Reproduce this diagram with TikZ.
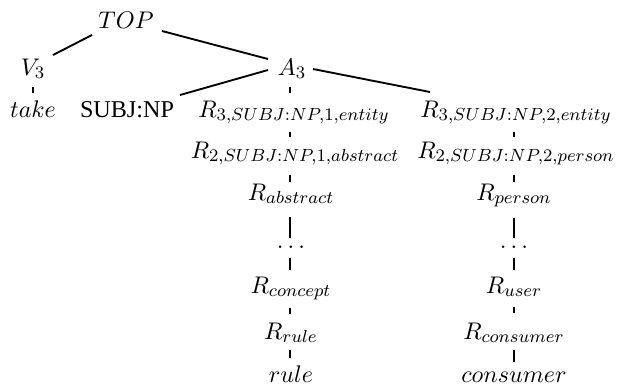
\documentclass[tikz,border=0pt]{standalone}
\usepackage{fontspec}
\newfontfamily\timesfont{Liberation Serif}
\begin{document}
\begin{tikzpicture}[x=0.016cm,y=-0.016cm,
  tn/.style={inner sep=0pt, anchor=base, font=\fontsize{11}{13}\selectfont},
  edge/.style={line width=0.85pt}]
\useasboundingbox (0,0) rectangle (619,384);
\node[tn] (top) at (126,28) {$TOP$};
\node[tn] (v3) at (33,75) {$V_3$};
\node[tn] (a3) at (292,75) {$A_3$};
\node[tn] (take) at (33,117) {$take$};
\node[tn] (subj) at (127,117) {\timesfont SUBJ:NP};
\node[tn] (r31) at (294,117) {$R_{3,SUBJ:NP,1,entity}$};
\node[tn] (r32) at (516,117) {$R_{3,SUBJ:NP,2,entity}$};
\node[tn] (r21) at (295,158) {$R_{2,SUBJ:NP,1,abstract}$};
\node[tn] (r22) at (516,158) {$R_{2,SUBJ:NP,2,person}$};
\node[tn] (rabs) at (291,200) {$R_{abstract}$};
\node[tn] (rper) at (514,200) {$R_{person}$};
\node[tn] (d1) at (291,248) {$\ldots$};
\node[tn] (d2) at (514,248) {$\ldots$};
\node[tn] (rcon) at (291,293) {$R_{concept}$};
\node[tn] (ruser) at (514,293) {$R_{user}$};
\node[tn] (rrule) at (291,339) {$R_{rule}$};
\node[tn] (rcons) at (514,339) {$R_{consumer}$};
\node[tn] (rule) at (291,382) {$rule$};
\node[tn] (cons) at (514,382) {$consumer$};
% diagonal edges
\draw[edge] ([shift={(-34,7)}]top.base) -- ([shift={(20,-20)}]v3.base);
\draw[edge] ([shift={(36,3)}]top.base) -- ([shift={(-24,-16)}]a3.base);
\draw[edge] ([shift={(-24,-5)}]a3.base) -- ([shift={(53,-22)}]subj.base);
\draw[edge] ([shift={(21,-6)}]a3.base) -- ([shift={(-86,-25)}]r32.base);
% vertical edges
\draw[edge] ([shift={(0,12)}]v3.base) -- ([shift={(0,-24)}]take.base);
\draw[edge] ([shift={(-2,12)}]a3.base) -- ([shift={(-4,-24)}]r31.base);
\draw[edge] ([shift={(-4,15)}]r31.base) -- ([shift={(-5,-21)}]r21.base);
\draw[edge] ([shift={(-2,15)}]r32.base) -- ([shift={(-2,-21)}]r22.base);
\draw[edge] ([shift={(-5,17)}]r21.base) -- ([shift={(-1,-18)}]rabs.base);
\draw[edge] ([shift={(-2,17)}]r22.base) -- ([shift={(0,-18)}]rper.base);
\draw[edge] ([shift={(-1,17)}]rabs.base) -- ([shift={(-1,-10)}]d1.base);
\draw[edge] ([shift={(0,18)}]rper.base) -- ([shift={(0,-10)}]d2.base);
\draw[edge] ([shift={(-1,10)}]d1.base) -- ([shift={(-1,-23)}]rcon.base);
\draw[edge] ([shift={(0,10)}]d2.base) -- ([shift={(0,-23)}]ruser.base);
\draw[edge] ([shift={(-1,15)}]rcon.base) -- ([shift={(-1,-25)}]rrule.base);
\draw[edge] ([shift={(0,14)}]ruser.base) -- ([shift={(0,-26)}]rcons.base);
\draw[edge] ([shift={(-1,11)}]rrule.base) -- ([shift={(-1,-24)}]rule.base);
\draw[edge] ([shift={(0,11)}]rcons.base) -- ([shift={(0,-20)}]cons.base);
\end{tikzpicture}
\end{document}
